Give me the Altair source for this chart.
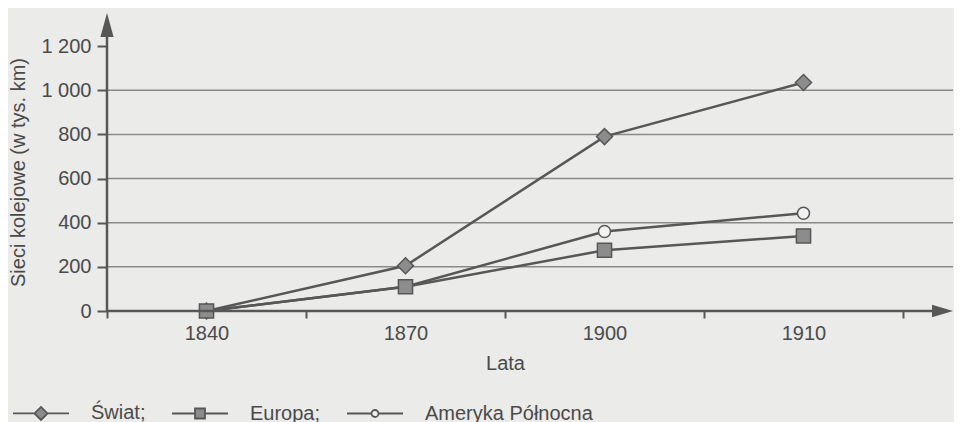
import altair as alt
import pandas as pd

# ---- data ----
years = ["1840", "1870", "1900", "1910"]
swiat = [0, 205, 790, 1035]
europa = [0, 110, 275, 340]
ameryka = [0, 110, 360, 443]
series_names = ["Świat;", "Europa;", "Ameryka Północna"]
y_ticks = [0, 200, 400, 600, 800, 1000, 1200]
grid_values = [200, 400, 600, 800, 1000]

rows = []
for name, vals in [(series_names[0], swiat), (series_names[2], ameryka), (series_names[1], europa)]:
    for yr, v in zip(years, vals):
        rows.append({"rok": yr, "wartosc": v, "seria": name})
df = pd.DataFrame(rows)
grid_df = pd.DataFrame({"wartosc": grid_values})
one = pd.DataFrame({"a": [0]})

W, H = 796, 298
INK = "#575757"
TXT = "#4a4a4a"
FONT = "Liberation Sans"
FS = 20

x_scale = alt.Scale(type="band", domain=years, paddingInner=0, paddingOuter=0)
y_scale = alt.Scale(domain=[0, 1350], nice=False, zero=True)

x_enc = alt.X("rok:O", scale=x_scale,
              axis=alt.Axis(title="Lata", tickBand="extent", domain=False, grid=False,
                            tickSize=7, tickWidth=2, tickColor=INK, labelAngle=0,
                            labelPadding=5, titlePadding=10,
                            labelFont=FONT, titleFont=FONT, labelFontSize=FS, titleFontSize=FS,
                            labelColor=TXT, titleColor=TXT, titleFontWeight="normal"))
y_enc = alt.Y("wartosc:Q", scale=y_scale,
              axis=alt.Axis(title="Sieci kolejowe (w tys. km)", values=y_ticks,
                            labelExpr="replace(format(datum.value, ','), ',', ' ')",
                            domain=False, grid=False, tickSize=10, tickWidth=2,
                            tickColor=INK, labelPadding=6, minExtent=65, maxExtent=65,
                            titlePadding=14, titleY=159,
                            labelFont=FONT, titleFont=FONT, labelFontSize=FS, titleFontSize=FS,
                            labelColor=TXT, titleColor=TXT, titleFontWeight="normal"))

grid = alt.Chart(grid_df).mark_rule(color="#8a8a8a", strokeWidth=1.5).encode(
    y=alt.Y("wartosc:Q", scale=y_scale), x=alt.value(0), x2=alt.value(846))

x_axis_line = alt.Chart(one).mark_rule(color=INK, strokeWidth=2.5).encode(
    x=alt.value(0), x2=alt.value(830), y=alt.value(H))
y_axis_line = alt.Chart(one).mark_rule(color=INK, strokeWidth=2.5).encode(
    x=alt.value(0), y=alt.value(H + 1), y2=alt.value(20))

up_arrow = alt.Chart(one).mark_point(shape="M0,-1L0.55,1L-0.55,1Z", filled=True,
                                     color=INK, opacity=1, size=576).encode(
    x=alt.value(0), y=alt.value(12))
right_arrow = alt.Chart(one).mark_point(shape="M1,0L-1,0.6L-1,-0.6Z", filled=True,
                                        color=INK, opacity=1, size=441).encode(
    x=alt.value(835.5), y=alt.value(H))

lines = alt.Chart(df).mark_line(color=INK, strokeWidth=2.5).encode(
    x=x_enc, y=y_enc, detail="seria:N")

points = alt.Chart(df).mark_point(filled=True, stroke=INK, strokeWidth=1.5, opacity=1).encode(
    x=x_enc, y=y_enc,
    shape=alt.Shape("seria:N", scale=alt.Scale(domain=series_names,
                                               range=["diamond", "square", "circle"]), legend=None),
    fill=alt.Fill("seria:N", scale=alt.Scale(domain=series_names,
                                             range=["#8c8c8c", "#8c8c8c", "#f2f2f2"]), legend=None),
    size=alt.Size("seria:N", scale=alt.Scale(domain=series_names, range=[256, 144, 81]), legend=None),
)

leg_paths = [
    "M-1,0L1.15,0M1.15,0L1.8,-0.65L2.45,0L1.8,0.65ZM2.45,0L4.6,0",
    "M-1,0L1.3,0M1.3,-0.5L2.3,-0.5L2.3,0.5L1.3,0.5ZM2.3,0L4.6,0",
    "M-1,0L1.45,0M1.45,0A0.35,0.35,0,1,0,2.15,0A0.35,0.35,0,1,0,1.45,0ZM2.15,0L4.6,0",
]
leg = alt.Legend(title=None, orient="none", legendX=-95, legendY=389, direction="horizontal",
                 symbolSize=400, symbolStrokeWidth=1.8, symbolStrokeColor=INK,
                 labelFontSize=FS, labelColor=TXT, labelFont=FONT, labelOffset=57,
                 labelLimit=400, columnPadding=22)
legend_layer = alt.Chart(df).mark_point(filled=True, strokeWidth=1.8, opacity=1).transform_filter(
    "false").encode(
    shape=alt.Shape("seria:N", scale=alt.Scale(domain=series_names, range=leg_paths), legend=leg),
    fill=alt.Fill("seria:N", scale=alt.Scale(domain=series_names,
                                             range=["#8c8c8c", "#8c8c8c", "#f2f2f2"]), legend=leg),
    stroke=alt.Stroke("seria:N", scale=alt.Scale(domain=series_names,
                                                 range=[INK, INK, INK]), legend=leg),
)

chart = alt.layer(grid, lines, points, legend_layer, x_axis_line, y_axis_line, up_arrow, right_arrow).resolve_scale(
    shape="independent", fill="independent", size="independent", stroke="independent"
).properties(
    width=W, height=H, background="#ebebe9",
    padding={"left": 0, "top": 5, "right": 0, "bottom": 0},
).configure_view(stroke=None)

chart.save("out.html", embed_options={"renderer": "svg", "actions": False})
